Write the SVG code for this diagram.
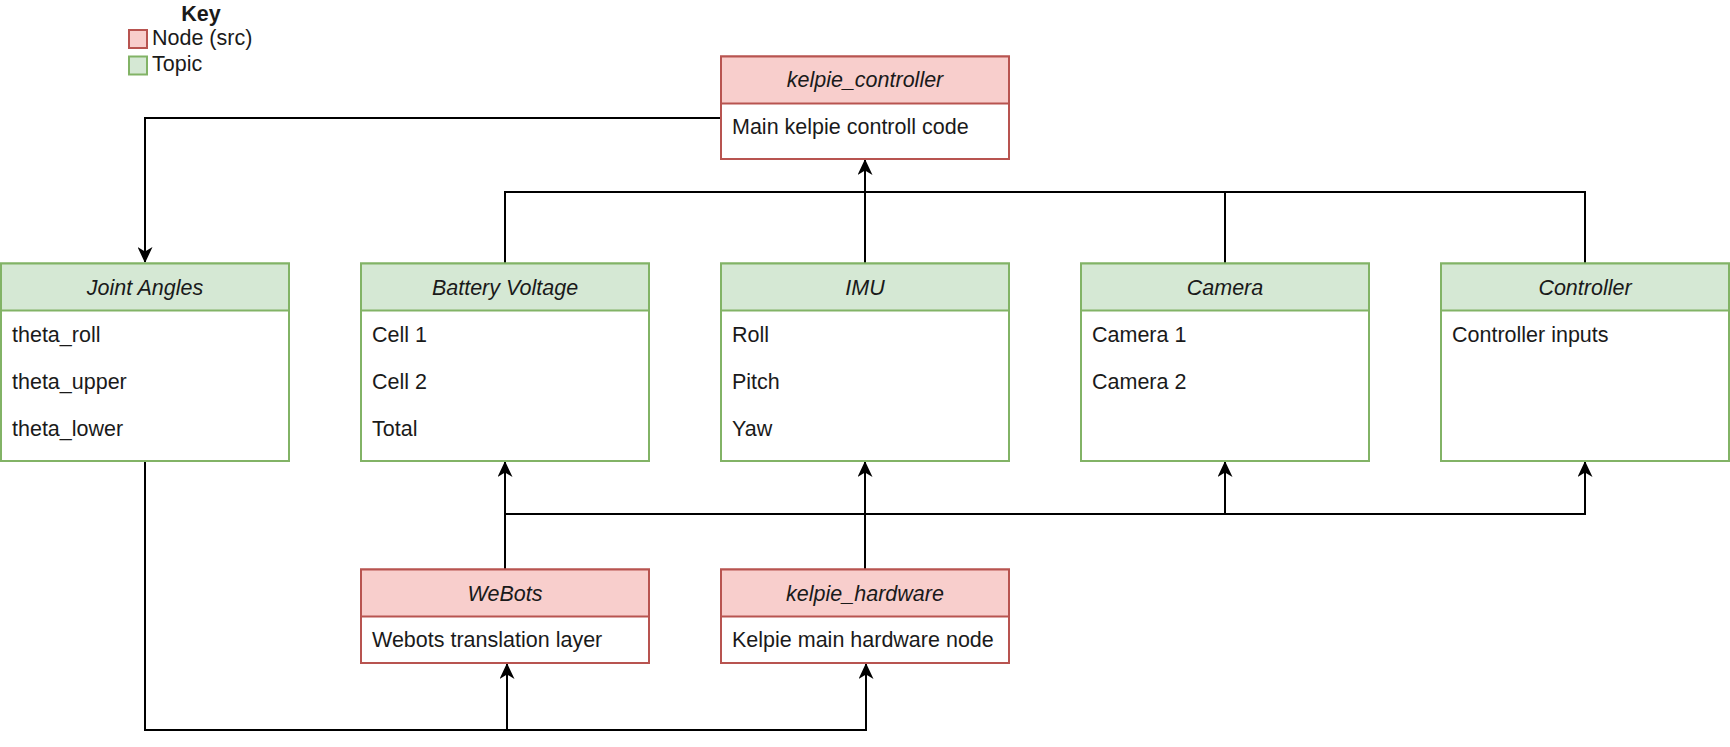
<svg xmlns="http://www.w3.org/2000/svg" width="1730" height="747" viewBox="0 0 1730 747">
<style>
  .src { fill: #f8cecc; stroke: #b85450; stroke-width: 2; }
  .topic { fill: #d5e8d4; stroke: #82b366; stroke-width: 2; }
  .srcb { fill: #ffffff; stroke: #b85450; stroke-width: 2; }
  .topicb { fill: #ffffff; stroke: #82b366; stroke-width: 2; }
  text { font-family: "Liberation Sans", Arial, sans-serif; font-size: 21.5px; fill: #1a1a1a; }
  .hdr { font-style: italic; text-anchor: middle; }
  .key { font-weight: bold; text-anchor: middle; }
  .edge { fill: none; stroke: #000000; stroke-width: 2; }
</style>
<defs>
  <marker id="arr" viewBox="0 0 16 15" refX="15" refY="7.5" markerWidth="16" markerHeight="15" markerUnits="userSpaceOnUse" orient="auto">
    <path d="M0,0 L16,7.5 L0,15 L4.5,7.5 Z" fill="#000000"/>
  </marker>
</defs>
<rect width="1730" height="747" fill="#ffffff"/>

<g id="key">
  <text class="key" x="201" y="20.5">Key</text>
  <rect class="src" x="129" y="30" width="18" height="18"/>
  <text x="152" y="45">Node (src)</text>
  <rect class="topic" x="129" y="56.5" width="18" height="18"/>
  <text x="152" y="71">Topic</text>
</g>

<g id="connectors">
  <path class="edge" d="M721,118 H145 V262" marker-end="url(#arr)"/>
  <path class="edge" d="M505,263.5 V192 H1585 V263.5"/>
  <path class="edge" d="M1225,192 V263.5"/>
  <path class="edge" d="M865,263.5 V160" marker-end="url(#arr)"/>
  <path class="edge" d="M505,569 V462" marker-end="url(#arr)"/>
  <path class="edge" d="M865,569 V462" marker-end="url(#arr)"/>
  <path class="edge" d="M505,514 H1585 V462" marker-end="url(#arr)"/>
  <path class="edge" d="M1225,514 V462" marker-end="url(#arr)"/>
  <path class="edge" d="M145,461 V730 H866 V664" marker-end="url(#arr)"/>
  <path class="edge" d="M507,730 V664" marker-end="url(#arr)"/>
</g>

<g id="kelpie_controller">
  <rect class="srcb" x="721" y="56.5" width="288" height="102.5"/>
  <rect class="src" x="721" y="56.5" width="288" height="47"/>
  <text class="hdr" x="865" y="87">kelpie_controller</text>
  <text x="732" y="134">Main kelpie controll code</text>
</g>

<g id="joint_angles">
  <rect class="topicb" x="1" y="263.5" width="288" height="197.5"/>
  <rect class="topic" x="1" y="263.5" width="288" height="47"/>
  <text class="hdr" x="145" y="294.5">Joint Angles</text>
  <text x="12" y="341.5">theta_roll</text>
  <text x="12" y="388.5">theta_upper</text>
  <text x="12" y="435.5">theta_lower</text>
</g>

<g id="battery_voltage">
  <rect class="topicb" x="361" y="263.5" width="288" height="197.5"/>
  <rect class="topic" x="361" y="263.5" width="288" height="47"/>
  <text class="hdr" x="505" y="294.5">Battery Voltage</text>
  <text x="372" y="341.5">Cell 1</text>
  <text x="372" y="388.5">Cell 2</text>
  <text x="372" y="435.5">Total</text>
</g>

<g id="imu">
  <rect class="topicb" x="721" y="263.5" width="288" height="197.5"/>
  <rect class="topic" x="721" y="263.5" width="288" height="47"/>
  <text class="hdr" x="865" y="294.5">IMU</text>
  <text x="732" y="341.5">Roll</text>
  <text x="732" y="388.5">Pitch</text>
  <text x="732" y="435.5">Yaw</text>
</g>

<g id="camera">
  <rect class="topicb" x="1081" y="263.5" width="288" height="197.5"/>
  <rect class="topic" x="1081" y="263.5" width="288" height="47"/>
  <text class="hdr" x="1225" y="294.5">Camera</text>
  <text x="1092" y="341.5">Camera 1</text>
  <text x="1092" y="388.5">Camera 2</text>
</g>

<g id="controller">
  <rect class="topicb" x="1441" y="263.5" width="288" height="197.5"/>
  <rect class="topic" x="1441" y="263.5" width="288" height="47"/>
  <text class="hdr" x="1585" y="294.5">Controller</text>
  <text x="1452" y="341.5">Controller inputs</text>
</g>

<g id="webots">
  <rect class="srcb" x="361" y="569.5" width="288" height="93.5"/>
  <rect class="src" x="361" y="569.5" width="288" height="47"/>
  <text class="hdr" x="505" y="600.5">WeBots</text>
  <text x="372" y="647">Webots translation layer</text>
</g>

<g id="kelpie_hardware">
  <rect class="srcb" x="721" y="569.5" width="288" height="93.5"/>
  <rect class="src" x="721" y="569.5" width="288" height="47"/>
  <text class="hdr" x="865" y="600.5">kelpie_hardware</text>
  <text x="732" y="647">Kelpie main hardware node</text>
</g>
</svg>
